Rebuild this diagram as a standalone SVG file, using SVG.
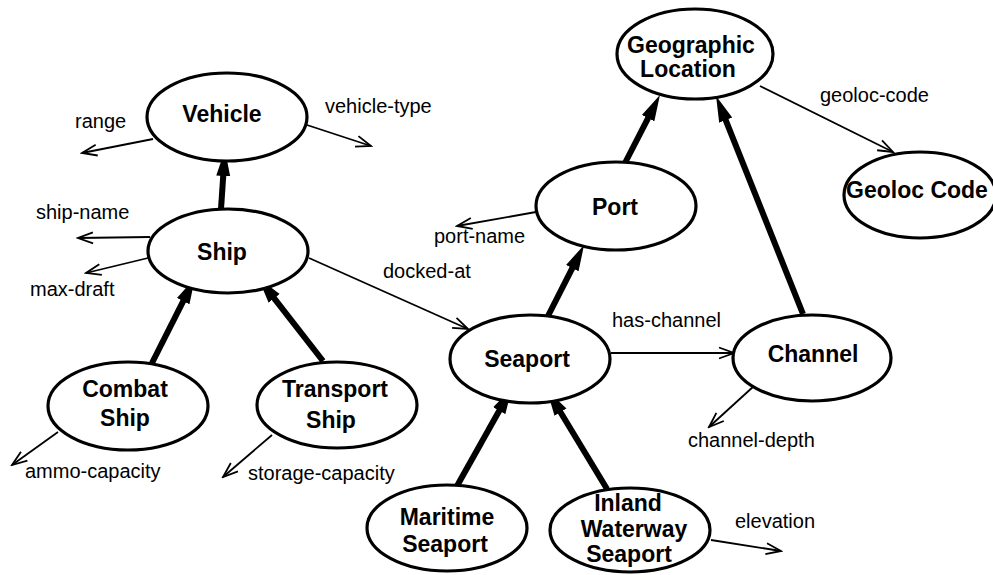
<svg xmlns="http://www.w3.org/2000/svg" width="993" height="575" viewBox="0 0 993 575">
<style>
.node ellipse{fill:#fff;stroke:#000;stroke-width:3.2}
.node text{font-family:"Liberation Sans",Arial,sans-serif;font-weight:bold;font-size:23px;text-anchor:middle;fill:#000}
.lbl{font-family:"Liberation Sans",Arial,sans-serif;font-size:20px;fill:#000}
.thin{stroke:#000;stroke-width:1.8;fill:none;marker-end:url(#open)}
.thick{stroke:#000;stroke-width:6;fill:none;marker-end:url(#solid)}
</style>
<defs>
<marker id="open" markerUnits="userSpaceOnUse" markerWidth="18" markerHeight="14" viewBox="0 0 18 14" refX="16" refY="7" orient="auto">
<path d="M1,1.5 L16,7 L1,12.5" fill="none" stroke="#000" stroke-width="1.8"/>
</marker>
<marker id="solid" markerUnits="userSpaceOnUse" markerWidth="26" markerHeight="16" viewBox="0 0 26 16" refX="4" refY="8" orient="auto">
<path d="M0,1 L26,8 L0,15 z" fill="#000"/>
</marker>
</defs>
<rect width="993" height="575" fill="#fff"/>
<g id="connectors">
<line class="thick" x1="221" y1="209" x2="223.5" y2="172"/>
<line class="thick" x1="152" y1="363" x2="185" y2="297.6"/>
<line class="thick" x1="323" y1="361" x2="271.7" y2="295.2"/>
<line class="thick" x1="548" y1="316" x2="574.1" y2="264.6"/>
<line class="thick" x1="625" y1="163" x2="649.9" y2="114.6"/>
<line class="thick" x1="803" y1="314" x2="724.2" y2="116.4"/>
<line class="thick" x1="457" y1="486" x2="501.2" y2="407.2"/>
<line class="thick" x1="607" y1="489" x2="558.4" y2="408.8"/>
<line class="thin" x1="153" y1="139" x2="82" y2="153"/>
<line class="thin" x1="307" y1="125" x2="371" y2="146"/>
<line class="thin" x1="150" y1="237" x2="78" y2="238"/>
<line class="thin" x1="148" y1="258" x2="86" y2="273"/>
<line class="thin" x1="309" y1="258" x2="468" y2="329"/>
<line class="thin" x1="58" y1="432" x2="12" y2="465"/>
<line class="thin" x1="272" y1="435" x2="223" y2="477"/>
<line class="thin" x1="536" y1="212" x2="457" y2="226"/>
<line class="thin" x1="760" y1="86" x2="893" y2="152"/>
<line class="thin" x1="611" y1="353" x2="734" y2="353"/>
<line class="thin" x1="754" y1="386" x2="709" y2="427"/>
<line class="thin" x1="711" y1="540" x2="781" y2="551"/>
<text class="lbl" x="75" y="128">range</text>
<text class="lbl" x="325" y="113">vehicle-type</text>
<text class="lbl" x="36" y="219">ship-name</text>
<text class="lbl" x="30" y="296">max-draft</text>
<text class="lbl" x="383" y="278">docked-at</text>
<text class="lbl" x="25" y="478">ammo-capacity</text>
<text class="lbl" x="248" y="480">storage-capacity</text>
<text class="lbl" x="434" y="243">port-name</text>
<text class="lbl" x="612" y="327">has-channel</text>
<text class="lbl" x="688" y="447">channel-depth</text>
<text class="lbl" x="735" y="528">elevation</text>
<text class="lbl" x="820" y="102">geoloc-code</text>
</g>
<g id="vehicle" class="node"><ellipse cx="227" cy="117" rx="80" ry="44"/><text x="222" y="122">Vehicle</text></g>
<g id="ship" class="node"><ellipse cx="228" cy="251" rx="80" ry="42"/><text x="222" y="260">Ship</text></g>
<g id="combat-ship" class="node"><ellipse cx="128" cy="406" rx="80" ry="44"/><text x="125" y="397">Combat</text><text x="125" y="426">Ship</text></g>
<g id="transport-ship" class="node"><ellipse cx="337" cy="405" rx="80" ry="43"/><text x="335" y="397">Transport</text><text x="331" y="428">Ship</text></g>
<g id="seaport" class="node"><ellipse cx="530" cy="359" rx="80" ry="44"/><text x="527" y="367">Seaport</text></g>
<g id="channel" class="node"><ellipse cx="812" cy="358" rx="79" ry="43"/><text x="813" y="362">Channel</text></g>
<g id="maritime-seaport" class="node"><ellipse cx="447" cy="528" rx="80" ry="43"/><text x="447" y="525">Maritime</text><text x="445" y="552">Seaport</text></g>
<g id="inland-waterway-seaport" class="node"><ellipse cx="630" cy="530" rx="80" ry="42"/><text x="628" y="511">Inland</text><text x="634" y="537">Waterway</text><text x="629" y="562">Seaport</text></g>
<g id="port" class="node"><ellipse cx="616" cy="206" rx="80" ry="44"/><text x="615" y="215">Port</text></g>
<g id="geographic-location" class="node"><ellipse cx="695" cy="54" rx="78" ry="45"/><text x="691" y="53">Geographic</text><text x="688" y="77">Location</text></g>
<g id="geoloc-code" class="node"><ellipse cx="920" cy="195" rx="76" ry="43"/><text x="917" y="198">Geoloc Code</text></g>
</svg>
